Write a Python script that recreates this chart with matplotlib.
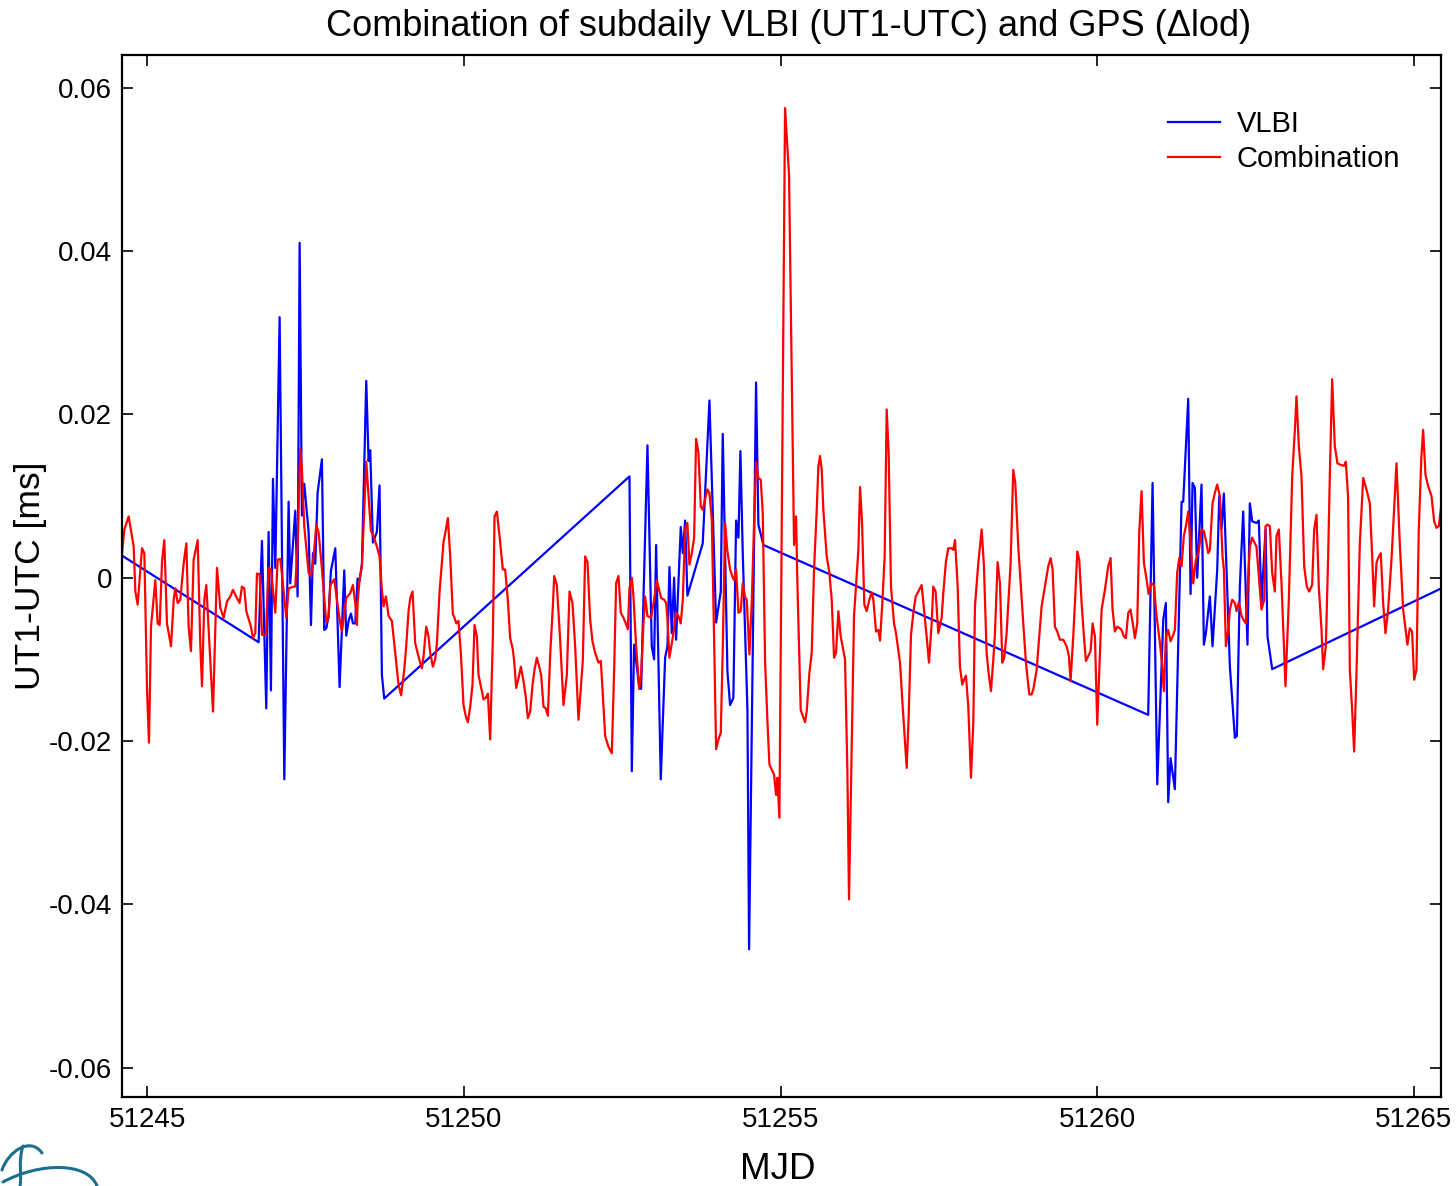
import numpy as np
import matplotlib
matplotlib.use("Agg")
import matplotlib.pyplot as plt
from matplotlib.path import Path
from matplotlib.patches import PathPatch

plt.rcParams['font.family'] = ['Liberation Sans', 'DejaVu Sans']
plt.rcParams['axes.unicode_minus'] = False

MJD0 = 51245

# VLBI UT1-UTC residuals [ms]; time as days after MJD 51245
vlbi_day = [
    -0.400, 1.757, 1.810, 1.878, 1.915, 1.952, 1.984, 2.021, 2.089, 2.163,
    2.231, 2.257, 2.336, 2.373, 2.405, 2.441, 2.478, 2.547, 2.584, 2.615,
    2.652, 2.689, 2.757, 2.794, 2.826, 2.862, 2.899, 2.968, 3.036, 3.110,
    3.141, 3.178, 3.215, 3.247, 3.283, 3.320, 3.352, 3.389, 3.457, 3.494,
    3.520, 3.562, 3.625, 3.667, 3.704, 3.741,
    7.614, 7.651, 7.687, 7.772, 7.798, 7.898, 7.966, 8.003, 8.035, 8.108,
    8.177, 8.214, 8.245, 8.282, 8.319, 8.350, 8.424, 8.456, 8.493, 8.529,
    8.771, 8.877, 8.982, 9.056, 9.087, 9.161, 9.203, 9.255, 9.298, 9.335,
    9.366, 9.403, 9.477, 9.503, 9.613, 9.650, 9.729,
    15.806, 15.875, 15.949, 16.044, 16.085, 16.122, 16.159, 16.227, 16.333, 16.359,
    16.438, 16.475, 16.506, 16.543, 16.580, 16.648, 16.685, 16.717, 16.780, 16.822,
    16.896, 16.928, 16.965, 17.001, 17.096, 17.175, 17.206, 17.253, 17.306, 17.374,
    17.411, 17.448, 17.516, 17.553, 17.595, 17.659, 17.690, 17.764, 20.437,
]
vlbi_val = [
    0.0027, -0.0079, 0.0045, -0.0160, 0.0056, -0.0138, 0.0121, 0.0012, 0.0319, -0.0247,
    0.0093, -0.0007, 0.0082, -0.0023, 0.0410, 0.0076, 0.0115, 0.0056, -0.0058, 0.0030,
    0.0017, 0.0104, 0.0145, -0.0064, -0.0062, -0.0047, 0.0008, 0.0036, -0.0134, 0.0009,
    -0.0071, -0.0053, -0.0044, -0.0056, -0.0056, -0.0001, -0.0004, 0.0017, 0.0241, 0.0143,
    0.0156, 0.0043, 0.0056, 0.0113, -0.0119, -0.0148,
    0.0124, -0.0237, -0.0082, -0.0136, -0.0136, 0.0162, -0.0084, -0.0100, 0.0040, -0.0247,
    -0.0098, -0.0084, 0.0013, -0.0068, 0.0000, -0.0076, 0.0062, 0.0030, 0.0070, -0.0022,
    0.0042, 0.0217, -0.0055, -0.0017, 0.0176, -0.0115, -0.0156, -0.0147, 0.0070, 0.0049,
    0.0155, 0.0030, -0.0162, -0.0455, 0.0239, 0.0065, 0.0040,
    -0.0168, 0.0116, -0.0253, -0.0051, -0.0031, -0.0275, -0.0221, -0.0259, 0.0093, 0.0093,
    0.0219, -0.0020, 0.0116, 0.0110, 0.0000, 0.0114, -0.0082, -0.0068, -0.0023, -0.0084,
    0.0010, 0.0100, 0.0060, 0.0103, -0.0109, -0.0196, -0.0194, -0.0011, 0.0081, -0.0082,
    0.0091, 0.0069, 0.0067, 0.0070, -0.0031, 0.0059, -0.0072, -0.0112, -0.0013,
]

# combined VLBI + GPS series
comb_day = [
    -0.400, -0.363, -0.295, -0.216, -0.189, -0.153, -0.084, -0.047, -0.005, 0.026,
    0.058, 0.126, 0.163, 0.195, 0.232, 0.268, 0.310, 0.374, 0.416, 0.442,
    0.479, 0.521, 0.574, 0.616, 0.652, 0.689, 0.731, 0.795, 0.837, 0.863,
    0.900, 0.931, 0.968, 1.037, 1.100, 1.152, 1.205, 1.258, 1.310, 1.352,
    1.415, 1.457, 1.494, 1.531, 1.563, 1.636, 1.668, 1.705, 1.731, 1.773,
    1.810, 1.873, 1.915, 1.952, 2.021, 2.057, 2.099, 2.131, 2.194, 2.231,
    2.310, 2.336, 2.373, 2.415, 2.442, 2.478, 2.547, 2.584, 2.626, 2.668,
    2.705, 2.747, 2.826, 2.862, 2.889, 2.952, 2.994, 3.047, 3.073, 3.141,
    3.204, 3.247, 3.283, 3.310, 3.320, 3.352, 3.389, 3.457, 3.494, 3.531,
    3.562, 3.625, 3.667, 3.704, 3.731, 3.768, 3.810, 3.862, 3.915, 3.967,
    4.009, 4.057, 4.088, 4.125, 4.152, 4.188, 4.230, 4.267, 4.309, 4.336,
    4.362, 4.404, 4.441, 4.467, 4.509, 4.546, 4.573, 4.615, 4.678, 4.720,
    4.746, 4.783, 4.825, 4.846, 4.878, 4.914, 4.951, 4.993, 5.030, 5.062,
    5.099, 5.135, 5.167, 5.204, 5.230, 5.267, 5.309, 5.346, 5.378, 5.414,
    5.457, 5.483, 5.520, 5.562, 5.614, 5.651, 5.693, 5.730, 5.772, 5.793,
    5.825, 5.862, 5.899, 5.941, 5.978, 6.009, 6.046, 6.083, 6.114, 6.151,
    6.188, 6.219, 6.256, 6.293, 6.325, 6.362, 6.404, 6.425, 6.467, 6.519,
    6.572, 6.625, 6.667, 6.714, 6.756, 6.809, 6.877, 6.914, 6.951, 6.993,
    7.030, 7.072, 7.124, 7.161, 7.193, 7.230, 7.282, 7.335, 7.372, 7.403,
    7.440, 7.477, 7.519, 7.556, 7.588, 7.614, 7.651, 7.677, 7.719, 7.767,
    7.798, 7.835, 7.861, 7.898, 7.956, 8.003, 8.045, 8.082, 8.114, 8.161,
    8.193, 8.214, 8.245, 8.282, 8.308, 8.350, 8.387, 8.424, 8.456, 8.493,
    8.529, 8.561, 8.603, 8.635, 8.666, 8.703, 8.740, 8.771, 8.808, 8.845,
    8.877, 8.914, 8.950, 8.982, 9.019, 9.056, 9.087, 9.124, 9.161, 9.203,
    9.245, 9.266, 9.298, 9.335, 9.371, 9.403, 9.440, 9.466, 9.508, 9.545,
    9.582, 9.613, 9.650, 9.687, 9.719, 9.756, 9.792, 9.824, 9.861, 9.897,
    9.929, 9.950, 9.982, 10.071, 10.134, 10.213, 10.245, 10.266, 10.318, 10.387,
    10.413, 10.455, 10.492, 10.529, 10.571, 10.597, 10.623, 10.650, 10.676, 10.729,
    10.771, 10.808, 10.845, 10.876, 10.913, 10.950, 11.018, 11.055, 11.081, 11.160,
    11.202, 11.229, 11.255, 11.287, 11.323, 11.360, 11.402, 11.439, 11.465, 11.508,
    11.544, 11.571, 11.607, 11.644, 11.676, 11.707, 11.744, 11.792, 11.823, 11.886,
    11.929, 11.992, 12.023, 12.060, 12.097, 12.134, 12.176, 12.228, 12.265, 12.307,
    12.344, 12.386, 12.412, 12.449, 12.491, 12.544, 12.570, 12.612, 12.649, 12.702,
    12.728, 12.755, 12.797, 12.833, 12.870, 12.897, 12.928, 12.965, 13.007, 13.044,
    13.070, 13.123, 13.176, 13.212, 13.254, 13.286, 13.323, 13.360, 13.386, 13.428,
    13.465, 13.502, 13.533, 13.570, 13.633, 13.675, 13.707, 13.754, 13.791, 13.833,
    13.875, 13.928, 13.965, 13.991, 14.044, 14.086, 14.123, 14.175, 14.228, 14.265,
    14.296, 14.333, 14.370, 14.412, 14.465, 14.517, 14.554, 14.580, 14.622, 14.649,
    14.686, 14.717, 14.754, 14.791, 14.822, 14.859, 14.896, 14.928, 14.965, 15.001,
    15.070, 15.122, 15.175, 15.212, 15.243, 15.280, 15.317, 15.359, 15.385, 15.422,
    15.454, 15.491, 15.527, 15.570, 15.596, 15.633, 15.664, 15.701, 15.738, 15.780,
    15.812, 15.859, 15.896, 15.938, 15.991, 16.022, 16.054, 16.085, 16.122, 16.159,
    16.201, 16.227, 16.264, 16.296, 16.333, 16.369, 16.401, 16.438, 16.475, 16.517,
    16.559, 16.601, 16.648, 16.685, 16.727, 16.754, 16.780, 16.822, 16.859, 16.896,
    16.938, 16.980, 17.001, 17.033, 17.070, 17.096, 17.132, 17.175, 17.201, 17.238,
    17.280, 17.322, 17.348, 17.385, 17.411, 17.448, 17.490, 17.516, 17.553, 17.595,
    17.638, 17.659, 17.690, 17.727, 17.764, 17.806, 17.832, 17.869, 17.911, 17.974,
    18.027, 18.080, 18.122, 18.148, 18.185, 18.227, 18.269, 18.311, 18.348, 18.395,
    18.427, 18.464, 18.500, 18.543, 18.569, 18.611, 18.648, 18.674, 18.711, 18.753,
    18.795, 18.848, 18.901, 18.927, 18.963, 18.990, 19.027, 19.058, 19.095, 19.148,
    19.201, 19.253, 19.306, 19.343, 19.374, 19.411, 19.437, 19.479, 19.516, 19.553,
    19.595, 19.648, 19.727, 19.779, 19.832, 19.900, 19.937, 19.974, 20.006, 20.042,
    20.079, 20.121, 20.148, 20.185, 20.227, 20.280, 20.322, 20.359, 20.395, 20.438,
    20.480,
]
comb_val = [
    0.0030, 0.0059, 0.0075, 0.0038, -0.0017, -0.0033, 0.0036, 0.0030, -0.0137, -0.0202,
    -0.0060, -0.0003, -0.0056, -0.0058, 0.0020, 0.0046, -0.0056, -0.0084, -0.0027, -0.0013,
    -0.0031, -0.0027, 0.0018, 0.0042, -0.0060, -0.0090, 0.0022, 0.0046, -0.0084, -0.0133,
    -0.0027, -0.0009, -0.0064, -0.0164, 0.0012, -0.0037, -0.0049, -0.0029, -0.0023, -0.0015,
    -0.0025, -0.0031, -0.0011, -0.0013, -0.0041, -0.0060, -0.0074, -0.0068, 0.0005, 0.0004,
    -0.0070, -0.0070, 0.0012, 0.0010, -0.0043, 0.0022, 0.0023, 0.0000, -0.0049, -0.0013,
    -0.0011, -0.0011, 0.0040, 0.0157, 0.0132, 0.0063, 0.0006, 0.0002, 0.0026, 0.0065,
    0.0055, 0.0020, -0.0055, -0.0049, -0.0009, -0.0002, -0.0027, -0.0056, -0.0066, -0.0025,
    -0.0019, -0.0009, -0.0031, -0.0058, -0.0031, -0.0002, 0.0014, 0.0142, 0.0100, 0.0057,
    0.0053, 0.0038, 0.0026, -0.0015, -0.0035, -0.0023, -0.0047, -0.0053, -0.0092, -0.0131,
    -0.0144, -0.0113, -0.0084, -0.0041, -0.0025, -0.0017, -0.0080, -0.0092, -0.0104, -0.0111,
    -0.0096, -0.0060, -0.0072, -0.0092, -0.0109, -0.0100, -0.0080, -0.0017, 0.0044, 0.0061,
    0.0073, 0.0026, -0.0045, -0.0048, -0.0056, -0.0053, -0.0092, -0.0156, -0.0170, -0.0177,
    -0.0158, -0.0131, -0.0058, -0.0072, -0.0119, -0.0133, -0.0149, -0.0147, -0.0142, -0.0198,
    -0.0072, 0.0075, 0.0081, 0.0051, 0.0010, 0.0010, -0.0027, -0.0074, -0.0088, -0.0102,
    -0.0135, -0.0123, -0.0109, -0.0127, -0.0147, -0.0172, -0.0164, -0.0131, -0.0113, -0.0098,
    -0.0109, -0.0119, -0.0158, -0.0160, -0.0169, -0.0094, -0.0035, 0.0002, -0.0009, -0.0076,
    -0.0156, -0.0119, -0.0017, -0.0031, -0.0084, -0.0174, -0.0102, 0.0026, 0.0019, -0.0051,
    -0.0078, -0.0092, -0.0104, -0.0102, -0.0143, -0.0194, -0.0207, -0.0215, -0.0113, -0.0007,
    0.0002, -0.0043, -0.0049, -0.0056, -0.0063, -0.0013, 0.0000, -0.0023, -0.0084, -0.0136,
    -0.0119, -0.0056, -0.0023, -0.0047, -0.0049, -0.0027, -0.0003, -0.0015, -0.0025, -0.0027,
    -0.0031, -0.0051, -0.0098, -0.0080, -0.0068, -0.0043, -0.0047, -0.0056, -0.0027, 0.0059,
    0.0067, 0.0016, 0.0032, 0.0049, 0.0170, 0.0153, 0.0087, 0.0083, 0.0096, 0.0108,
    0.0104, 0.0071, -0.0072, -0.0210, -0.0198, -0.0190, -0.0088, 0.0067, 0.0032, 0.0010,
    0.0000, -0.0003, 0.0010, -0.0043, -0.0041, -0.0007, -0.0024, -0.0027, -0.0094, -0.0031,
    0.0067, 0.0142, 0.0122, 0.0120, 0.0079, -0.0104, -0.0174, -0.0229, -0.0235, -0.0241,
    -0.0266, -0.0245, -0.0294, 0.0575, 0.0493, 0.0040, 0.0075, -0.0007, -0.0162, -0.0177,
    -0.0164, -0.0117, -0.0092, 0.0010, 0.0083, 0.0136, 0.0149, 0.0132, 0.0083, 0.0026,
    0.0006, -0.0027, -0.0098, -0.0092, -0.0041, -0.0072, -0.0100, -0.0235, -0.0394, -0.0047,
    0.0002, 0.0034, 0.0111, 0.0067, -0.0033, -0.0041, -0.0027, -0.0018, -0.0027, -0.0066,
    -0.0064, -0.0077, -0.0031, 0.0026, 0.0206, 0.0153, -0.0011, -0.0056, -0.0068, -0.0104,
    -0.0158, -0.0233, -0.0170, -0.0070, -0.0043, -0.0023, -0.0017, -0.0009, -0.0038, -0.0072,
    -0.0104, -0.0056, -0.0011, -0.0017, -0.0068, -0.0049, -0.0019, 0.0020, 0.0036, 0.0036,
    0.0034, 0.0046, -0.0011, -0.0109, -0.0131, -0.0125, -0.0120, -0.0158, -0.0245, -0.0178,
    -0.0035, 0.0018, 0.0059, 0.0014, -0.0092, -0.0117, -0.0139, -0.0100, -0.0068, 0.0019,
    -0.0007, -0.0104, -0.0098, -0.0068, 0.0018, 0.0132, 0.0116, 0.0038, -0.0007, -0.0056,
    -0.0104, -0.0143, -0.0143, -0.0137, -0.0113, -0.0072, -0.0035, -0.0011, 0.0014, 0.0024,
    0.0010, -0.0060, -0.0066, -0.0076, -0.0076, -0.0084, -0.0096, -0.0127, -0.0072, -0.0031,
    0.0032, 0.0022, -0.0031, -0.0072, -0.0102, -0.0096, -0.0090, -0.0056, -0.0072, -0.0180,
    -0.0039, -0.0015, 0.0014, 0.0024, -0.0039, -0.0066, -0.0060, -0.0062, -0.0064, -0.0072,
    -0.0074, -0.0043, -0.0039, -0.0060, -0.0074, -0.0056, 0.0055, 0.0106, 0.0018, -0.0002,
    -0.0020, -0.0007, -0.0009, -0.0047, -0.0080, -0.0104, -0.0139, -0.0072, -0.0064, -0.0078,
    -0.0070, -0.0064, 0.0006, 0.0024, 0.0014, 0.0051, 0.0063, 0.0081, 0.0044, -0.0007,
    0.0022, 0.0031, 0.0059, 0.0057, 0.0042, 0.0030, 0.0034, 0.0091, 0.0104, 0.0114,
    0.0100, 0.0026, 0.0010, -0.0084, -0.0064, -0.0039, -0.0027, -0.0031, -0.0041, -0.0030,
    -0.0047, -0.0053, -0.0056, -0.0002, 0.0038, 0.0049, 0.0042, 0.0038, 0.0002, -0.0039,
    -0.0027, 0.0063, 0.0065, 0.0063, 0.0006, -0.0017, 0.0051, 0.0059, -0.0007, -0.0133,
    -0.0027, 0.0124, 0.0181, 0.0222, 0.0161, 0.0124, 0.0014, -0.0011, -0.0017, -0.0009,
    0.0059, 0.0077, -0.0011, -0.0064, -0.0112, -0.0084, 0.0026, 0.0124, 0.0243, 0.0161,
    0.0140, 0.0138, 0.0137, 0.0142, 0.0098, -0.0113, -0.0162, -0.0213, -0.0117, 0.0042,
    0.0122, 0.0108, 0.0091, 0.0026, -0.0035, 0.0018, 0.0024, 0.0030, -0.0031, -0.0068,
    -0.0039, 0.0022, 0.0140, 0.0042, -0.0039, -0.0082, -0.0062, -0.0066, -0.0125, -0.0113,
    0.0059, 0.0149, 0.0181, 0.0126, 0.0112, 0.0100, 0.0069, 0.0061, 0.0063, 0.0091,
    0.0091,
]

xticks = [51245, 51250, 51255, 51260, 51265]
xtick_labels = ['51245', '51250', '51255', '51260', '51265']
yticks = [-0.06, -0.04, -0.02, 0.0, 0.02, 0.04, 0.06]
ytick_labels = ['-0.06', '-0.04', '-0.02', '0', '0.02', '0.04', '0.06']

vlbi_mjd = MJD0 + np.array(vlbi_day)
comb_mjd = MJD0 + np.array(comb_day)

fig = plt.figure(figsize=(14.56, 11.86), dpi=100)
ax = fig.add_axes([0.0838, 0.0750, 0.9059, 0.8786])

ax.plot(vlbi_mjd, vlbi_val, color='#0000ff', lw=1.6, label='VLBI')
ax.plot(comb_mjd, comb_val, color='#ff0000', lw=1.6, label='Combination')

ax.set_xlim(51244.60, 51265.43)
ax.set_ylim(-0.0636, 0.0640)
ax.set_xticks(xticks)
ax.set_xticklabels(xtick_labels)
ax.set_yticks(yticks)
ax.set_yticklabels(ytick_labels)
ax.tick_params(direction='in', length=8, width=1.2, top=True, right=True,
               labelsize=20, pad=7)
for sp in ax.spines.values():
    sp.set_linewidth(1.6)

ax.set_title('Combination of subdaily VLBI (UT1-UTC) and GPS (\u0394lod)',
             fontsize=26, pad=14, x=0.505)
ax.set_xlabel('MJD', fontsize=26.5)
ax.set_ylabel('UT1-UTC [ms]', fontsize=25.5)
ax.xaxis.set_label_coords(0.497, -0.053)
ax.yaxis.set_label_coords(-0.057, 0.5)

ax.legend(loc='upper right', bbox_to_anchor=(0.989, 0.972), frameon=False,
          fontsize=21, handlelength=1.78, handletextpad=0.58, labelspacing=0.22)

# institute logo in the lower left corner
lax = fig.add_axes([0, 0, 0.1, 0.06])
lax.set_xlim(0, 145.6)
lax.set_ylim(0, 71.2)
lax.axis('off')
logo = '#1c6f8c'
curves = [
    [(2, 16), (8, 34), (30, 50), (42, 33)],
    [(23, 40), (18, 25), (22, 10), (20, 0)],
    [(3, 4), (40, 24), (88, 24), (97, 0)],
]
for pts in curves:
    p = Path(pts, [Path.MOVETO, Path.CURVE4, Path.CURVE4, Path.CURVE4])
    lax.add_patch(PathPatch(p, fill=False, edgecolor=logo, lw=2.2, capstyle='round'))

fig.savefig('out.png', dpi=100)
